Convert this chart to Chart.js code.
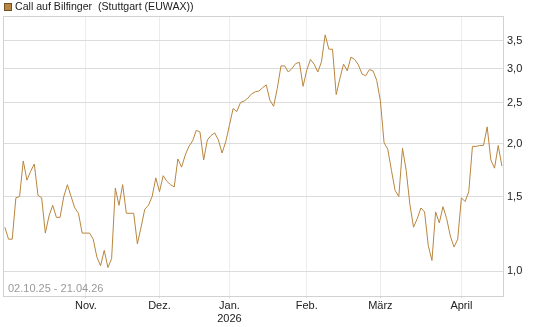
<!DOCTYPE html>
<html>
<head>
<meta charset="utf-8">
<script src="https://cdn.jsdelivr.net/npm/chart.js@4/dist/chart.umd.min.js"></script>
<style>
  body { margin: 0; background: #fff; }
  canvas { display: block; }
</style>
</head>
<body>
<canvas id="chart" width="545" height="327"></canvas>
<script>
const seriesName = 'Call auf Bilfinger  (Stuttgart (EUWAX))';
const dateRange = '02.10.25 - 21.04.26';

// daily closes, one per trading day from 02.10.25
const prices = [
  1.27, 1.19, 1.19, 1.49, 1.50, 1.82, 1.64, 1.72, 1.79, 1.51,
  1.49, 1.23, 1.35, 1.43, 1.34, 1.34, 1.50, 1.60, 1.50, 1.41,
  1.37, 1.23, 1.23, 1.23, 1.19, 1.08, 1.03, 1.12, 1.02, 1.07,
  1.57, 1.43, 1.60, 1.37, 1.37, 1.37, 1.16, 1.27, 1.40, 1.43,
  1.50, 1.66, 1.54, 1.68, 1.63, 1.60, 1.58, 1.84, 1.76, 1.88,
  1.97, 2.03, 2.15, 2.13, 1.83, 2.04, 2.09, 2.12, 2.04, 1.90,
  2.02, 2.21, 2.42, 2.38, 2.50, 2.52, 2.56, 2.62, 2.65, 2.66,
  2.71, 2.75, 2.53, 2.45, 2.70, 3.05, 3.05, 2.95, 3.01, 3.09,
  3.11, 2.73, 2.98, 3.16, 3.08, 2.95, 3.12, 3.61, 3.34, 3.34,
  2.61, 2.85, 3.08, 2.97, 3.20, 3.16, 3.07, 2.92, 2.89, 2.99,
  2.97, 2.82, 2.52, 2.01, 1.94, 1.73, 1.55, 1.50, 1.95, 1.73,
  1.44, 1.27, 1.33, 1.41, 1.38, 1.15, 1.06, 1.38, 1.30, 1.42,
  1.33, 1.21, 1.14, 1.19, 1.49, 1.46, 1.54, 1.97, 1.97, 1.98,
  1.98, 2.19, 1.83, 1.75, 1.98, 1.77
];

// index of first trading day of each month
const monthIdx = [22, 42, 61, 82, 102, 124];
const monthLabels = ['Nov.', 'Dez.', ['Jan.', '2026'], 'Feb.', 'März', 'April'];
const yTicks = [1.0, 1.5, 2.0, 2.5, 3.0, 3.5];

const lineColor = '#b8863e';
const fontFamily = '"Liberation Sans", Arial, sans-serif';

Chart.defaults.font.family = fontFamily;
Chart.defaults.font.size = 11;
Chart.defaults.color = '#222';

const framePlugin = {
  id: 'frame',
  beforeDatasetsDraw(chart) {
    const { ctx, chartArea: a } = chart;
    ctx.save();
    ctx.strokeStyle = '#d2d2d2';
    ctx.lineWidth = 1;
    ctx.beginPath();
    ctx.moveTo(a.left + 0.5, a.bottom);
    ctx.lineTo(a.left + 0.5, a.top + 0.5);
    ctx.lineTo(a.right, a.top + 0.5);
    ctx.stroke();

    ctx.fillStyle = '#9a9a9a';
    ctx.font = '11px ' + fontFamily;
    ctx.textBaseline = 'middle';
    ctx.fillText(dateRange, a.left + 5, a.bottom - 7);
    ctx.restore();
  },
  afterDraw(chart) {
    const ctx = chart.ctx;
    ctx.save();
    ctx.fillStyle = lineColor;
    ctx.fillRect(4, 3, 8, 8);
    ctx.strokeStyle = '#6e5126';
    ctx.lineWidth = 1;
    ctx.strokeRect(4.5, 3.5, 7, 7);
    ctx.fillStyle = '#222';
    ctx.font = '10.6px ' + fontFamily;
    ctx.textBaseline = 'middle';
    ctx.fillText(seriesName, 15, 7.5);
    ctx.restore();
  }
};

new Chart(document.getElementById('chart'), {
  type: 'line',
  data: {
    datasets: [{
      label: seriesName,
      data: prices.map((v, i) => ({ x: i, y: v })),
      borderColor: lineColor,
      borderWidth: 1,
      pointRadius: 0,
      tension: 0,
      fill: false
    }]
  },
  options: {
    responsive: false,
    animation: false,
    devicePixelRatio: 1,
    layout: { padding: { left: 3, top: 16, right: 0, bottom: 0 } },
    plugins: { legend: { display: false }, tooltip: { enabled: false } },
    scales: {
      x: {
        type: 'linear',
        min: -0.5,
        max: 135.3,
        bounds: 'data',
        afterFit: s => { s.height = 31; },
        afterBuildTicks: s => { s.ticks = monthIdx.map(v => ({ value: v })); },
        ticks: {
          autoSkip: false,
          maxRotation: 0,
          padding: 1,
          color: '#222',
          callback: v => monthLabels[monthIdx.indexOf(v)]
        },
        grid: { color: '#ececec', tickLength: 2, tickColor: '#d2d2d2' },
        border: { color: '#d2d2d2' }
      },
      y: {
        type: 'logarithmic',
        position: 'right',
        min: 0.874,
        max: 4.0,
        bounds: 'data',
        afterFit: s => { s.width = 42; },
        afterBuildTicks: s => { s.ticks = yTicks.map(v => ({ value: v })); },
        ticks: {
          padding: 4,
          color: '#222',
          callback: v => v.toFixed(1).replace('.', ',')
        },
        grid: { color: '#dcdcdc', drawTicks: false },
        border: { color: '#d2d2d2' }
      }
    }
  },
  plugins: [framePlugin]
});
</script>
</body>
</html>
